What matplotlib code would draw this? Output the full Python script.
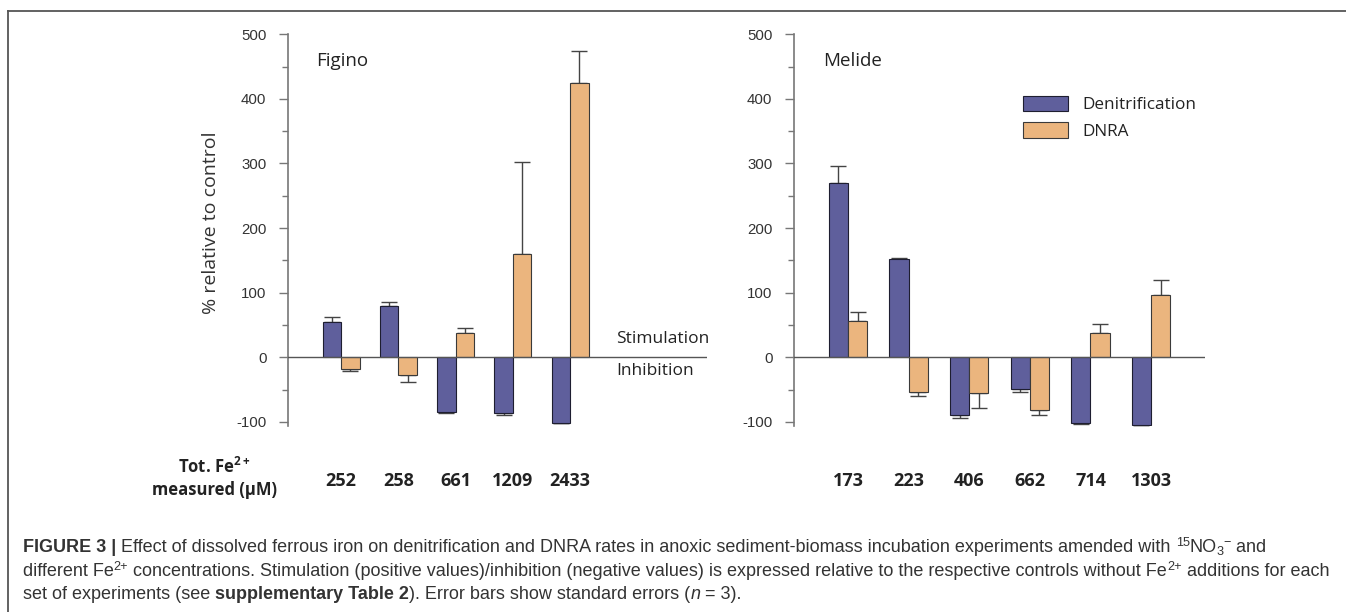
import numpy as np
import matplotlib
matplotlib.use("Agg")
import matplotlib.pyplot as plt
from matplotlib.lines import Line2D

# data (% relative to control)
fig_fe = ["252", "258", "661", "1209", "2433"]
fig_den = [54, 79, -85, -87, -101]
fig_den_se = [8, 7, 0.5, 3, 0.5]
fig_dnra = [-18, -28, 37, 160, 425]
fig_dnra_se = [3.5, 11, 9, 142, 49]

mel_fe = ["173", "223", "406", "662", "714", "1303"]
mel_den = [270, 152, -90, -49, -102, -105]
mel_den_se = [26, 2, 4.5, 5, 2, 0.5]
mel_dnra = [56, -54, -55, -82, 38, 96]
mel_dnra_se = [14, 6, 23, 8, 13, 23]

C_DEN = "#5f5f9c"
C_DNRA = "#ebb57e"

LAB_FONT = "Open Sans"
TICK_FONT = "Liberation Sans"
CAP_FONT = "Liberation Sans"

plt.rcParams["axes.unicode_minus"] = False
plt.rcParams["mathtext.fontset"] = "custom"
plt.rcParams["mathtext.rm"] = LAB_FONT
plt.rcParams["mathtext.bf"] = LAB_FONT + ":bold"

W, H = 1346, 612
fig = plt.figure(figsize=(W / 100, H / 100), dpi=100)


def one_sided(vals, se):
    lo = [s if v < 0 else 0 for v, s in zip(vals, se)]
    hi = [s if v >= 0 else 0 for v, s in zip(vals, se)]
    return [lo, hi]


def panel(rect, den, den_se, dnra, dnra_se, fe, xlim, w):
    ax = fig.add_axes(rect)
    x = np.arange(len(den))
    ax.bar(x - w / 2, den, w, color=C_DEN, edgecolor="#1e1e30", lw=0.8, zorder=3,
           label="Denitrification")
    ax.bar(x + w / 2, dnra, w, color=C_DNRA, edgecolor="#3a3a3a", lw=0.8, zorder=3,
           label="DNRA")
    ax.errorbar(x - w / 2, den, yerr=one_sided(den, den_se), fmt="none", ecolor="#444444",
                elinewidth=1, capsize=5.8, capthick=1, zorder=2)
    ax.errorbar(x + w / 2, dnra, yerr=one_sided(dnra, dnra_se), fmt="none", ecolor="#444444",
                elinewidth=1, capsize=5.8, capthick=1, zorder=2)
    ax.axhline(0, color="#555555", lw=1, zorder=4)
    ax.set_xlim(*xlim)
    ax.set_ylim(-107, 500)
    ax.set_yticks(np.arange(-100, 501, 100))
    ax.set_yticks(np.arange(-50, 500, 100), minor=True)
    ax.set_xticks(x, fe)
    for s in ["top", "right", "bottom"]:
        ax.spines[s].set_visible(False)
    ax.spines["left"].set_color("#777777")
    ax.spines["left"].set_linewidth(1.2)
    ax.tick_params(axis="y", which="major", length=6.5, width=1, color="#777777",
                   pad=9, labelsize=10.8, labelcolor="#333333")
    ax.tick_params(axis="y", which="minor", length=4.3, width=1, color="#777777")
    ax.tick_params(axis="x", length=0, pad=33, labelsize=13, labelcolor="#222222")
    for t in ax.get_yticklabels():
        t.set_family(TICK_FONT)
    for t in ax.get_xticklabels():
        t.set_family(LAB_FONT)
        t.set_fontweight("bold")
    ax.patch.set_alpha(0)
    return ax


def fr(x0, x1, y0=34.3, y1=426.4):
    return [x0 / W, 1 - y1 / H, (x1 - x0) / W, (y1 - y0) / H]


ax1 = panel(fr(288, 707), fig_den, fig_den_se, fig_dnra, fig_dnra_se, fig_fe,
            (-0.926, 6.39), 0.323)
ax2 = panel(fr(794, 1205), mel_den, mel_den_se, mel_dnra, mel_dnra_se, mel_fe,
            (-0.891, 5.89), 0.317)

fig.text(211 / W, 1 - 223 / H, "% relative to control", family=LAB_FONT, fontsize=14,
         color="#333333", rotation=90, va="center", ha="center")

fig.text(316 / W, 1 - 61 / H, "Figino", family=LAB_FONT, fontsize=13.5, color="#222222",
         va="center", ha="left")
fig.text(823 / W, 1 - 61 / H, "Melide", family=LAB_FONT, fontsize=13.5, color="#222222",
         va="center", ha="left")
fig.text(616 / W, 1 - 339 / H, "Stimulation", family=LAB_FONT, fontsize=12.5,
         color="#222222", va="center", ha="left")
fig.text(616 / W, 1 - 371 / H, "Inhibition", family=LAB_FONT, fontsize=12.5,
         color="#222222", va="center", ha="left")

fig.text(214 / W, 1 - 467 / H, r"Tot. Fe$^{\mathbf{2+}}$", family=LAB_FONT, fontsize=12,
         fontweight="bold", color="#222222", va="center", ha="center")
fig.text(214 / W, 1 - 490 / H, "measured (µM)", family=LAB_FONT, fontsize=12,
         fontweight="bold", color="#222222", va="center", ha="center")

leg = ax2.legend(loc="upper left", bbox_to_anchor=(1014 / W, 1 - 87 / H),
                 bbox_transform=fig.transFigure, frameon=False, borderpad=0,
                 handlelength=2.69, handleheight=1.05, handletextpad=0.82,
                 labelspacing=0.5, prop={"family": LAB_FONT, "size": 12.3})
for t in leg.get_texts():
    t.set_color("#222222")

# outer frame (top and left edges visible)
fig.add_artist(Line2D([8 / W, 1.01], [1 - 10.5 / H, 1 - 10.5 / H], color="#555555", lw=1.3,
                      transform=fig.transFigure))
fig.add_artist(Line2D([8 / W, 8 / W], [1 - 10.5 / H, -0.01], color="#555555", lw=1.3,
                      transform=fig.transFigure))

# caption, drawn piece by piece
renderer = fig.canvas.get_renderer()


def caption_line(x_px, y_px, segs, size=13):
    x = x_px
    for s, kind in segs:
        fs, dy, wt, st = size, 0, "normal", "normal"
        if kind == "b":
            wt = "bold"
        elif kind == "i":
            st = "italic"
        elif kind == "sup":
            fs, dy = size * 0.7, -6
        elif kind == "sub":
            fs, dy = size * 0.7, 3
        t = fig.text(x / W, 1 - (y_px + dy) / H, s, family=CAP_FONT, fontsize=fs,
                     fontweight=wt, fontstyle=st, color="#333333", va="baseline", ha="left")
        x += t.get_window_extent(renderer).width
    return x


caption_line(23, 552, [
    ("FIGURE 3 |", "b"),
    (" Effect of dissolved ferrous iron on denitrification and DNRA rates in anoxic "
     "sediment-biomass incubation experiments amended with ", ""),
    ("15", "sup"), ("NO", ""), ("3", "sub"), ("\u2212", "sup"), (" and", ""),
])
caption_line(23, 576, [
    ("different Fe", ""), ("2+", "sup"),
    (" concentrations. Stimulation (positive values)/inhibition (negative values) is "
     "expressed relative to the respective controls without Fe", ""),
    ("2+", "sup"), (" additions for each", ""),
])
caption_line(23, 599, [
    ("set of experiments (see ", ""), ("supplementary Table 2", "b"),
    ("). Error bars show standard errors (", ""), ("n", "i"), (" = 3).", ""),
])

fig.savefig("out.png", dpi=100)
